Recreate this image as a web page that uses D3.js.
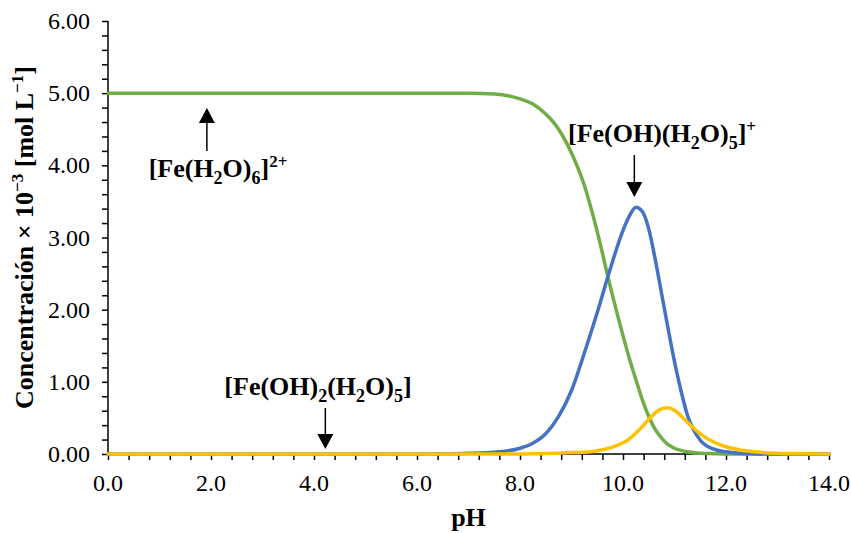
<!DOCTYPE html>
<html>
<head>
<meta charset="utf-8">
<script src="https://cdn.jsdelivr.net/npm/d3@7"></script>
<style>
  html, body { margin: 0; padding: 0; background: #fff; }
  svg { display: block; }
  text { font-family: "Liberation Serif", "Times New Roman", serif; fill: #000; }
</style>
</head>
<body>
<svg id="chart" width="851" height="533"></svg>
<script>
// ---- data ----
const pH = [0,0.5,1,1.5,2,2.5,3,3.5,4,4.5,5,5.5,6,6.5,7,7.5,8,8.25,8.5,8.75,9,9.25,9.5,9.75,10,10.125,10.25,10.375,10.5,10.625,10.75,10.875,11,11.125,11.25,11.5,11.75,12,12.25,12.5,13,13.5,14];
const feH2O6 = [5,5,5,5,5,5,5,5,5,5,5,5,5,5.00,5.00,4.99,4.92,4.85,4.71,4.50,4.17,3.72,3.08,2.33,1.64,1.32,1.03,0.75,0.52,0.34,0.22,0.13,0.08,0.05,0.03,0.01,0.005,0,0,0,0,0,0];
const feOH = [0,0,0,0,0,0,0,0,0,0,0,0,0,0.003,0.01,0.025,0.08,0.15,0.28,0.52,0.88,1.40,1.96,2.56,3.10,3.30,3.42,3.36,3.12,2.70,2.22,1.74,1.28,0.88,0.54,0.19,0.07,0.03,0.012,0.005,0,0,0];
const feOH2 = [0,0,0,0,0,0,0,0,0,0,0,0,0,0,0,0,0.001,0.003,0.006,0.012,0.02,0.025,0.045,0.085,0.155,0.21,0.29,0.38,0.48,0.57,0.625,0.64,0.605,0.53,0.44,0.28,0.17,0.10,0.06,0.035,0.01,0.003,0];
const xTicks = [0,2,4,6,8,10,12,14];
const yTicks = [0,1,2,3,4,5,6];
const seriesColors = ["#70AD47", "#4472C4", "#FFC000"];

// ---- layout ----
const svg = d3.select("#chart");
const L = 108, R = 829, T = 21, B = 454;
const x = d3.scaleLinear().domain([0, 14]).range([L, R]);
const y = d3.scaleLinear().domain([0, 6]).range([B, T]);

svg.append("rect").attr("width", 851).attr("height", 533).attr("fill", "#fff");

// minor ticks
const xMinor = d3.range(0, 14.0001, 0.4).filter(v => v <= 14);
const yMinor = d3.range(0, 6.0001, 0.2);

const xAxis = d3.axisBottom(x).tickValues(xMinor).tickSize(6).tickFormat("");
const yAxis = d3.axisLeft(y).tickValues(yMinor).tickSize(6).tickFormat("");

const gx = svg.append("g").attr("transform", `translate(0,${B})`).call(xAxis);
const gy = svg.append("g").attr("transform", `translate(${L},0)`).call(yAxis);
[gx, gy].forEach(g => {
  g.selectAll("path").attr("stroke", "#000").attr("stroke-width", 1.5);
  g.selectAll("line").attr("stroke", "#000").attr("stroke-width", 1.5);
});
gx.select("path").attr("d", `M${L},0H${R}`);
gy.select("path").attr("d", `M0,${B}V${T}`);

// major tick labels
svg.append("g").selectAll("text").data(xTicks).join("text")
  .attr("x", d => x(d)).attr("y", 491)
  .attr("text-anchor", "middle").attr("font-size", 24)
  .text(d => d.toFixed(1));
svg.append("g").selectAll("text").data(yTicks).join("text")
  .attr("x", 90).attr("y", d => y(d) + 8)
  .attr("text-anchor", "end").attr("font-size", 24)
  .text(d => d.toFixed(2));

// axis titles
svg.append("text").attr("x", (L + R) / 2).attr("y", 526)
  .attr("text-anchor", "middle").attr("font-size", 26).attr("font-weight", "bold").text("pH");

const yt = svg.append("text")
  .attr("transform", `translate(33,${(T + B) / 2}) rotate(-90)`)
  .attr("text-anchor", "middle").attr("font-size", 26).attr("font-weight", "bold");
yt.append("tspan").text("Concentración × 10");
yt.append("tspan").attr("font-size", 17).attr("dy", -10).text("−3");
yt.append("tspan").attr("dy", 10).text(" [mol L");
yt.append("tspan").attr("font-size", 17).attr("dy", -10).text("−1");
yt.append("tspan").attr("dy", 10).text("]");

// lines
const line = vals => d3.line()
  .x((d, i) => x(pH[i]))
  .y(d => y(d))
  .curve(d3.curveMonotoneX)(vals);

[feH2O6, feOH, feOH2].forEach((vals, i) => {
  svg.append("path").attr("d", line(vals))
    .attr("fill", "none").attr("stroke", seriesColors[i])
    .attr("stroke-width", 3.5).attr("stroke-linejoin", "round").attr("stroke-linecap", "round");
});

// annotations
function arrow(xp, y1, y2) {
  const dir = y2 > y1 ? 1 : -1;
  const headLen = 15;
  svg.append("line").attr("x1", xp).attr("x2", xp).attr("y1", y1).attr("y2", y2 - dir * headLen)
    .attr("stroke", "#000").attr("stroke-width", 1.5);
  svg.append("path")
    .attr("d", `M${xp},${y2} L${xp - 8},${y2 - dir * headLen} L${xp + 8},${y2 - dir * headLen} Z`)
    .attr("fill", "#000");
}

function label(xc, yb, parts) {
  const t = svg.append("text").attr("x", xc).attr("y", yb)
    .attr("text-anchor", "middle").attr("font-size", 26).attr("font-weight", "bold");
  let shift = 0;
  parts.forEach(p => {
    const [str, kind] = p;
    let target = 0, fs = 26;
    if (kind === "sub") { target = 7; fs = 18; }
    if (kind === "sup") { target = -10; fs = 17; }
    t.append("tspan").attr("dy", target - shift).attr("font-size", fs).text(str);
    shift = target;
  });
}

label(218, 177, [["[Fe(H"], ["2", "sub"], ["O)"], ["6", "sub"], ["]"], ["2+", "sup"]]);
arrow(x(1.92), 151, 108);

label(662, 142, [["[Fe(OH)(H"], ["2", "sub"], ["O)"], ["5", "sub"], ["]"], ["+", "sup"]]);
arrow(x(10.22), 155, 197);

label(318, 395, [["[Fe(OH)"], ["2", "sub"], ["(H"], ["2", "sub"], ["O)"], ["5", "sub"], ["]"]]);
arrow(x(4.22), 408, 449);
</script>
</body>
</html>
